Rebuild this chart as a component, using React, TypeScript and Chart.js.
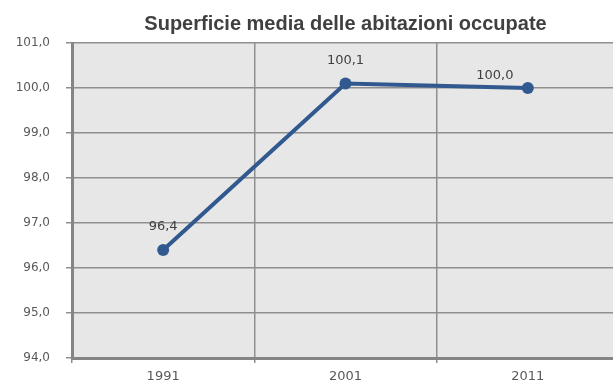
import React, { useEffect, useRef } from "react";
import { Chart, registerables } from "chart.js";

Chart.register(...registerables);

const TITLE = "Superficie media delle abitazioni occupate";
const YEARS = ["1991", "2001", "2011"];
const VALUES = [96.4, 100.1, 100.0];
const Y_MIN = 94;
const Y_MAX = 101;
const Y_STEP = 1;

const fmt = (v: number) => v.toFixed(1).replace(".", ",");

const plotBg = {
  id: "plotBg",
  beforeDraw(chart: any) {
    const { ctx, chartArea: a } = chart;
    ctx.save();
    ctx.fillStyle = "#e7e7e7";
    ctx.fillRect(a.left, a.top, a.right - a.left, a.bottom - a.top);
    ctx.restore();
  },
};

const valueLabels = {
  id: "valueLabels",
  afterDatasetsDraw(chart: any) {
    const { ctx } = chart;
    const meta = chart.getDatasetMeta(0);
    const ds = chart.data.datasets[0];
    ctx.save();
    ctx.font = "13px 'DejaVu Sans'";
    ctx.fillStyle = "#404040";
    ctx.textAlign = "center";
    ctx.textBaseline = "middle";
    meta.data.forEach((pt: any, i: number) => {
      const last = i === meta.data.length - 1;
      const dx = last ? -33 : 0;
      const dy = last ? -12 : -23;
      ctx.fillText(fmt(ds.data[i] as number), pt.x + dx, pt.y + dy);
    });
    ctx.restore();
  },
};

export default function App() {
  const ref = useRef<HTMLCanvasElement>(null);
  useEffect(() => {
    if (!ref.current) return;
    const chart = new Chart(ref.current, {
      type: "line",
      data: {
        labels: YEARS,
        datasets: [
          {
            data: VALUES,
            borderColor: "#31598f",
            backgroundColor: "#31598f",
            borderWidth: 4,
            pointRadius: 6,
            pointBackgroundColor: "#31598f",
            pointBorderColor: "#31598f",
            pointBorderWidth: 0,
            tension: 0,
          },
        ],
      },
      options: {
        animation: false,
        responsive: false,
        devicePixelRatio: 1,
        layout: { padding: { left: 0, right: 3, top: 0, bottom: 0 } },
        plugins: {
          legend: { display: false },
          tooltip: { enabled: false },
          title: {
            display: true,
            text: TITLE,
            fullSize: false,
            color: "#404040",
            font: { family: "'Liberation Sans', Arial, sans-serif", size: 20, weight: "bold" },
            padding: { top: 12, bottom: 7 },
          },
        },
        scales: {
          x: {
            type: "category",
            offset: true,
            grid: {
              offset: true,
              color: "#8f8f8f",
              lineWidth: 1.5,
              tickLength: 5,
              drawTicks: true,
            },
            border: { color: "#858585", width: 3 },
            ticks: {
              color: "#595959",
              font: { family: "'DejaVu Sans'", size: 13 },
              padding: 6,
              maxRotation: 0,
            },
            afterFit: (s: any) => {
              s.height = 29;
            },
          },
          y: {
            min: Y_MIN,
            max: Y_MAX,
            grid: {
              color: "#8f8f8f",
              lineWidth: 1.5,
              tickLength: 6,
            },
            border: { color: "#858585", width: 3 },
            ticks: {
              stepSize: Y_STEP,
              color: "#595959",
              font: { family: "'DejaVu Sans'", size: 12 },
              padding: 16,
              callback: (v: any) => fmt(Number(v)),
            },
            afterFit: (s: any) => {
              s.width = 72;
            },
          },
        },
      },
      plugins: [plotBg, valueLabels],
    });
    return () => chart.destroy();
  }, []);
  return (
    <div
      style={{
        position: "fixed",
        left: 0,
        top: 0,
        width: 613,
        height: 387,
        overflow: "hidden",
        background: "#ffffff",
      }}
    >
      <canvas ref={ref} width={625} height={387} style={{ display: "block" }} />
    </div>
  );
}
